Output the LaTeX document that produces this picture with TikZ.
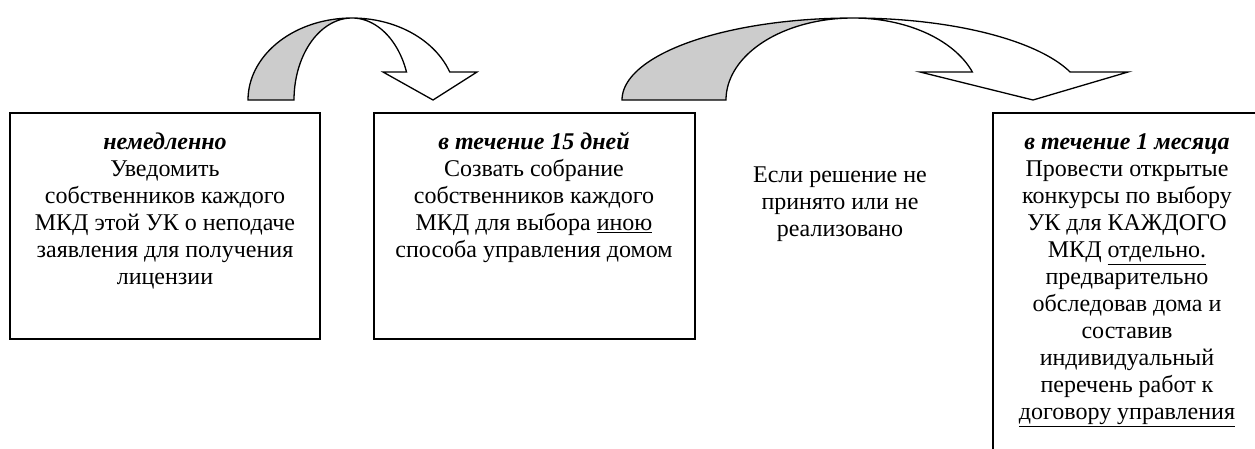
\documentclass[tikz,border=0pt]{standalone}
\usepackage{fontspec}
\setmainfont{Liberation Serif}
\tikzset{
  boxline/.style={draw=black, line width=1.5pt},
  arrowline/.style={draw=black, line width=1.3pt, line join=miter},
  backfill/.style={fill=black!20},
  txt/.style={anchor=north, inner sep=0pt, align=center, font=\fontsize{24}{27}\selectfont},
}
\newcommand{\fl}{\rule{0pt}{20pt}}
\begin{document}
\begin{tikzpicture}[x=1pt,y=-1pt]
\useasboundingbox (0,0) rectangle (1255,448);
\clip (0,0) rectangle (1255,448);
% boxes
\draw[boxline] (10,113) rectangle (320,339);
\draw[boxline] (374,113) rectangle (695,339);
\draw[boxline] (993,113) rectangle (1270,470);
% arrow 1
\fill[backfill] plot[domain=180:90,samples=40] ({352+104*cos(\x)},{100-82*sin(\x)})
  -- plot[domain=90:180,samples=40] ({352+58*cos(\x)},{100-82*sin(\x)}) -- cycle;
\draw[arrowline] plot[domain=180:20,samples=60] ({352+104*cos(\x)},{100-82*sin(\x)})
  -- (477,72) -- (433,100) -- (383,72)
  -- plot[domain=20:180,samples=60] ({352+58*cos(\x)},{100-82*sin(\x)}) -- cycle;
% arrow 2
\fill[backfill] plot[domain=180:90,samples=60] ({853+231*cos(\x)},{100-82*sin(\x)})
  -- plot[domain=90:180,samples=60] ({853+127*cos(\x)},{100-82*sin(\x)}) -- cycle;
\draw[arrowline] plot[domain=180:20,samples=90] ({853+231*cos(\x)},{100-82*sin(\x)})
  -- (1128,72) -- (1033,100) -- (920,72)
  -- plot[domain=20:180,samples=90] ({853+127*cos(\x)},{100-82*sin(\x)}) -- cycle;
% texts
\node[txt] (t1) at (165,129.5) {\fl\textbf{\textit{немедленно}}\\Уведомить\\собственников каждого\\МКД этой УК о неподаче\\заявления для получения\\лицензии};
\node[txt] (t2) at (534,129.5) {\fl\textbf{\textit{в течение 15 дней}}\\Созвать собрание\\собственников каждого\\МКД для выбора \underline{иною}\\способа управления домом};
\node[txt] (t3) at (840,162.5) {\fl Если решение не\\принято или не\\реализовано};
\node[txt] (t4) at (1127,129.5) {\fl\textbf{\textit{в течение 1 месяца}}\\Провести открытые\\конкурсы по выбору\\УК для КАЖДОГО\\МКД \underline{отдельно.}\\предварительно\\обследовав дома и\\составив\\индивидуальный\\перечень работ к\\\underline{договору управления}};
\end{tikzpicture}
\end{document}
